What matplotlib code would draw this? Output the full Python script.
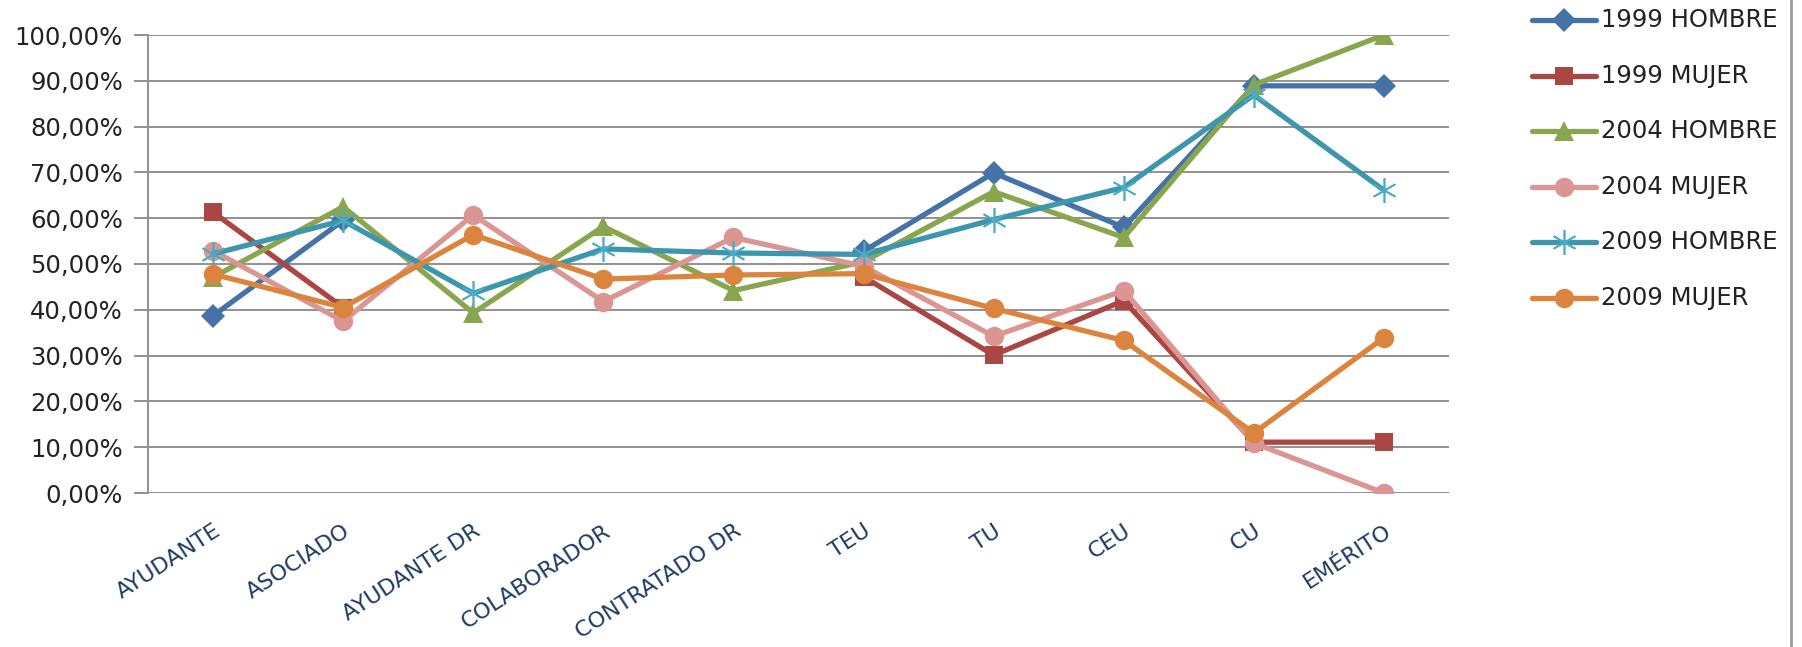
import numpy as np
import matplotlib
matplotlib.use("Agg")
import matplotlib.pyplot as plt
from matplotlib.ticker import FuncFormatter
from matplotlib.lines import Line2D

# Categorías
categorias = ["AYUDANTE", "ASOCIADO", "AYUDANTE DR", "COLABORADOR", "CONTRATADO DR",
              "TEU", "TU", "CEU", "CU", "EMÉRITO"]

# Porcentajes (1999 sin datos en las figuras nuevas)
h1999 = [38.7, 59.5, np.nan, np.nan, np.nan, 52.8, 69.9, 58.0, 88.9, 88.9]
m1999 = [61.3, 40.5, np.nan, np.nan, np.nan, 47.2, 30.1, 42.0, 11.1, 11.1]
h2004 = [47.1, 62.5, 39.3, 58.2, 44.2, 50.5, 65.8, 55.8, 89.1, 100.0]
m2004 = [52.9, 37.5, 60.7, 41.8, 55.8, 49.5, 34.2, 44.2, 10.9, 0.0]
h2009 = [52.2, 59.5, 43.6, 53.3, 52.4, 52.1, 59.7, 66.7, 86.9, 66.1]
m2009 = [47.8, 40.5, 56.4, 46.7, 47.6, 47.9, 40.3, 33.3, 13.1, 33.9]

series = [
    ("1999 HOMBRE", h1999, "#4572A7", "D", 12),
    ("1999 MUJER", m1999, "#AA4643", "s", 13),
    ("2004 HOMBRE", h2004, "#89A54E", "^", 15),
    ("2004 MUJER", m2004, "#DB9694", "o", 14),
    ("2009 HOMBRE", h2009, "#3D96AE", (6, 2, 0), 18),
    ("2009 MUJER", m2009, "#DB843D", "o", 14),
]

plt.rcParams['font.family'] = ['DejaVu Sans']

fig = plt.figure(figsize=(18.02, 6.47), dpi=100)
ax = fig.add_axes([148 / 1802, 1 - 493 / 647, (1449 - 148) / 1802, (493 - 35) / 647])

x = np.arange(len(categorias))
handles = []
for nombre, vals, color, marker, ms in series:
    if marker == (6, 2, 0):
        estilo = dict(markeredgecolor="#4BACC6", markeredgewidth=1.2)
    else:
        estilo = dict(markeredgewidth=0)
    ax.plot(x, vals, color=color, lw=3.8, marker=marker, ms=ms, zorder=3, **estilo)
    handles.append((nombre, color, marker, ms, estilo))

ax.set_xlim(-0.5, len(categorias) - 0.5)
ax.set_ylim(0, 100)
ax.set_yticks(np.arange(0, 101, 10))
ax.yaxis.set_major_formatter(FuncFormatter(lambda v, p: f"{v:.2f}%".replace(".", ",")))
ax.grid(axis="y", color="#919191", lw=1.4)
ax.set_axisbelow(True)
for s in ["top", "right", "bottom"]:
    ax.spines[s].set_visible(False)
ax.spines["left"].set_color("#919191")
ax.spines["left"].set_linewidth(1.4)
ax.tick_params(axis="y", length=10, width=1.4, color="#919191", labelsize=17.5,
               labelcolor="#222222", pad=8)
ax.tick_params(axis="x", length=0, pad=20)
ax.set_xticks(x)
ax.set_xticklabels(categorias, rotation=33, ha="right", va="top",
                   rotation_mode="anchor", fontsize=16, color="#1F3B63")

# Leyenda
ys = [20, 76, 131, 187, 242, 298]
for (nombre, color, marker, ms, estilo), yy in zip(handles, ys):
    yf = 1 - yy / 647
    fig.lines.append(Line2D([1532 / 1802, 1596 / 1802], [yf, yf], transform=fig.transFigure,
                            color=color, lw=3.8, solid_capstyle="round"))
    fig.lines.append(Line2D([1564 / 1802], [yf], transform=fig.transFigure,
                            color=color, lw=0, marker=marker, ms=ms, **estilo))
    fig.text(1601 / 1802, yf, nombre, fontsize=17.5, va="center", ha="left", color="#222222")

# Borde derecho
fig.lines.append(Line2D([1791 / 1802, 1791 / 1802], [0, 1], transform=fig.transFigure,
                        color="#9A9A9A", lw=2))

fig.savefig("out.png", dpi=100)
